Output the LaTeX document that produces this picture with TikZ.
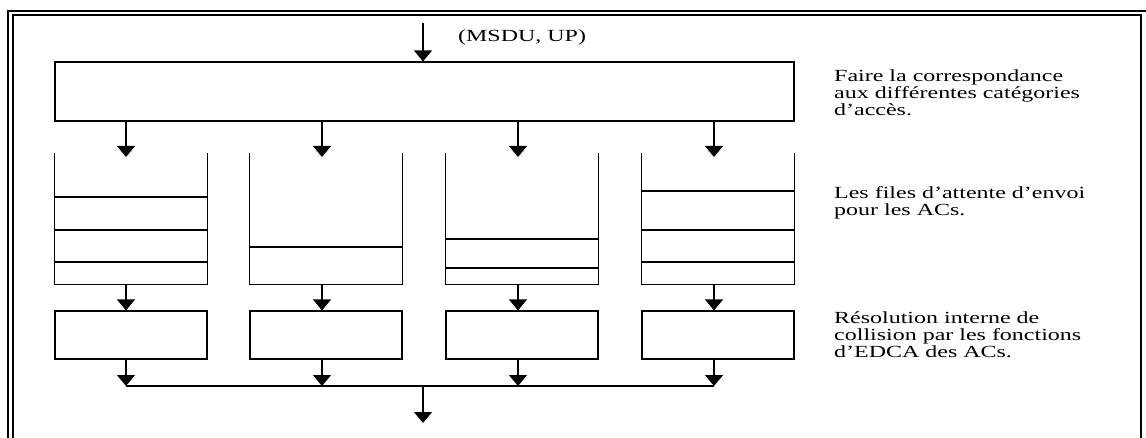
\documentclass[tikz,border=0pt]{standalone}
\usepackage{fontspec}
\usepackage{graphicx}
\setmainfont{Liberation Serif}
\usetikzlibrary{arrows.meta}
% text is set wide, as in the original figure
\newcommand{\wide}[1]{\scalebox{1.41}[1]{#1}}
\begin{document}
\begin{tikzpicture}[x=1pt,y=-1pt,
  frame/.style={line width=1.3pt},
  box/.style={draw, line width=1.1pt, minimum width=152pt, minimum height=48pt, inner sep=0pt},
  queue/.style={minimum width=152pt, minimum height=131pt, inner sep=0pt},
  wall/.style={line width=1.1pt},
  slot/.style={line width=1.1pt},
  arr/.style={line width=1.4pt, -{Triangle[length=11pt,width=18pt]}},
  link/.style={line width=1.1pt},
  note/.style={anchor=north west, align=left, inner sep=0pt, font=\fontsize{17}{17}\selectfont}
]
\useasboundingbox (0,0) rectangle (1146,438);

% double frame, open at the bottom
\draw[frame] (8,460) -- (8,11) -- (1160,11);
\draw[frame] (13,460) -- (13,15) -- (1141,15) -- (1141,460);

% mapping to the access categories
\node[draw, line width=1.1pt, minimum width=739pt, minimum height=59pt, inner sep=0pt] (map) at (424.5,91.5) {};
\coordinate (in) at (423,23);
\draw[arr] (in) -- (in |- map.north);
\node[anchor=base west, inner sep=0pt, font=\fontsize{17}{17}\selectfont] (lbl) at (458,42) {\wide{(MSDU, UP)}};

% four transmit queues and their EDCA functions
\foreach \i/\cx/\ax in {1/131/126,2/326/322,3/522/518,4/718/714} {
  \node[queue] (q\i) at (\cx,218.5) {};
  \node[box] (b\i) at (\cx,335) {};
  \coordinate (t\i) at (\ax,157);
  \coordinate (bus\i) at (\ax,386);
  \draw[wall] (q\i.north west) -- (q\i.south west) -- (q\i.south east) -- (q\i.north east);
  \draw[arr] (map.south -| t\i) -- (t\i);
  \draw[arr] (q\i.south -| t\i) -- (b\i.north -| t\i);
  \draw[arr] (b\i.south -| t\i) -- (bus\i);
}

% frames waiting in each queue
\foreach \i/\y in {1/197,1/230,1/262,2/247,3/239,3/268,4/191,4/230,4/262}
  \draw[slot] (q\i.west |- 0,\y) -- (q\i.east |- 0,\y);

% merge towards the medium
\coordinate (busmid) at (423,386);
\coordinate (out) at (423,423);
\draw[link] (bus1) -- (bus4);
\draw[arr] (busmid) -- (out);

% explanations
\node[note] (n1) at (834,70) {\wide{Faire la correspondance}\\ \wide{aux différentes catégories}\\ \wide{d’accès.}};
\node[note] (n2) at (834,186) {\wide{Les files d’attente d’envoi}\\ \wide{pour les ACs.}};
\node[note] (n3) at (834,311) {\wide{Résolution interne de}\\ \wide{collision par les fonctions}\\ \wide{d’EDCA des ACs.}};
\end{tikzpicture}
\end{document}
